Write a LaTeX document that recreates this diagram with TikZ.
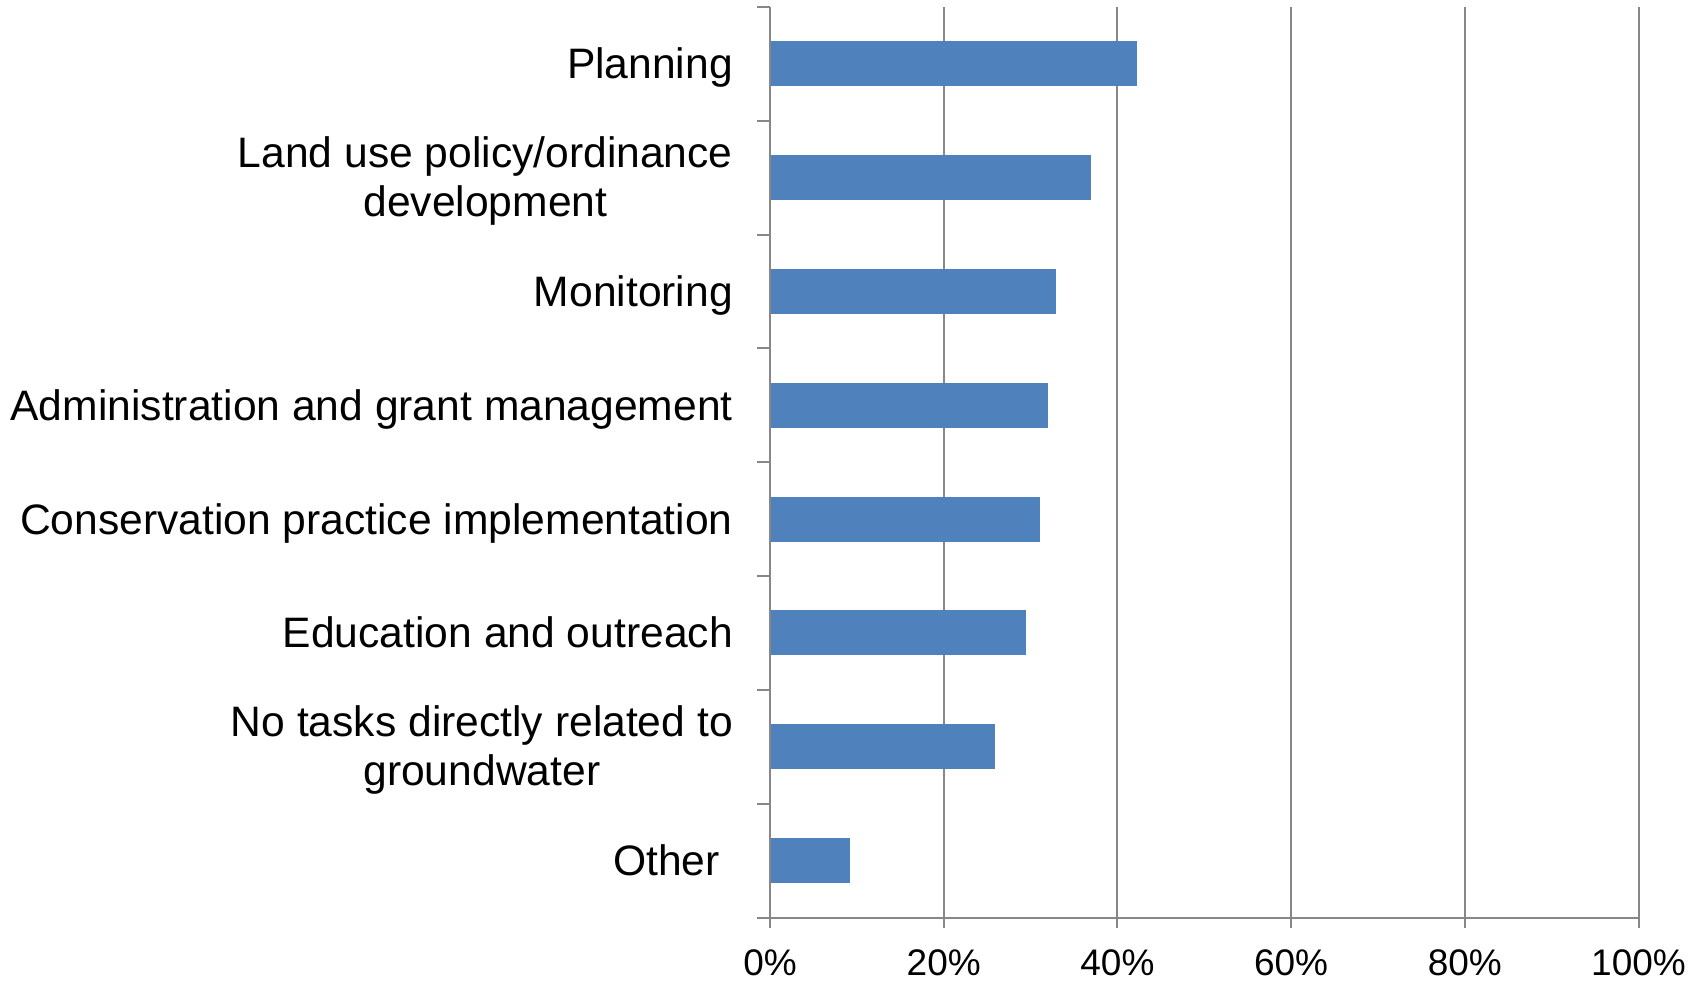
\documentclass[tikz,border=0pt]{standalone}
\usepackage{fontspec}
\setmainfont{Liberation Sans}
\definecolor{barblue}{HTML}{4F81BD}
\definecolor{axisgray}{HTML}{878787}

\begin{document}
\begin{tikzpicture}[x=1pt, y=-1pt,
    cat/.style={anchor=base east, inner sep=0pt, align=center, font=\fontsize{42.6}{49}\selectfont},
    pct/.style={anchor=base, inner sep=0pt, font=\fontsize{37}{40}\selectfont},
    bar/.style={fill=barblue},
    gridline/.style={draw=axisgray, line width=2pt}
]
\useasboundingbox (0,0) rectangle (1699,980);

% Vertical gridlines
\foreach \p in {20,40,...,100}
    \draw[gridline] ({770+8.685*\p},7) -- ({770+8.685*\p},928);

% Bars
\fill[bar] (770,41.4) rectangle (1137.4,86.4);
\fill[bar] (770,155.2) rectangle (1091.3,200.2);
\fill[bar] (770,269) rectangle (1055.7,314);
\fill[bar] (770,382.8) rectangle (1047.9,427.8);
\fill[bar] (770,496.6) rectangle (1040.1,541.6);
\fill[bar] (770,610.4) rectangle (1026.2,655.4);
\fill[bar] (770,724.2) rectangle (994.9,769.2);
\fill[bar] (770,838) rectangle (849.9,883);

% Axes and ticks
\draw[gridline] (770,7) -- (770,928);
\draw[gridline] (757,917.5) -- (1638.5,917.5);
\foreach \k in {0,...,7}
    \draw[gridline] (757,{7+113.8*\k}) -- (770,{7+113.8*\k});

% Category labels
\node[cat] (planning) at (733,78.9) {Planning};
\node[cat, anchor=east] (landuse) at (733,180.5) {Land use policy/ordinance\\development};
\node[cat] (monitoring) at (733,306.5) {Monitoring};
\node[cat] (admin) at (733,420.3) {Administration and grant management};
\node[cat] (conservation) at (733,534.1) {Conservation practice implementation};
\node[cat] (education) at (733,647.9) {Education and outreach};
\node[cat, anchor=east] (notasks) at (733,749.5) {No tasks directly related to\\groundwater};
\node[cat] (other) at (720,875.5) {Other};

% Percent labels
\foreach \p in {0,20,...,100}
    \node[pct] (p\p) at ({770+8.685*\p},975) {\p\%};

\end{tikzpicture}
\end{document}
